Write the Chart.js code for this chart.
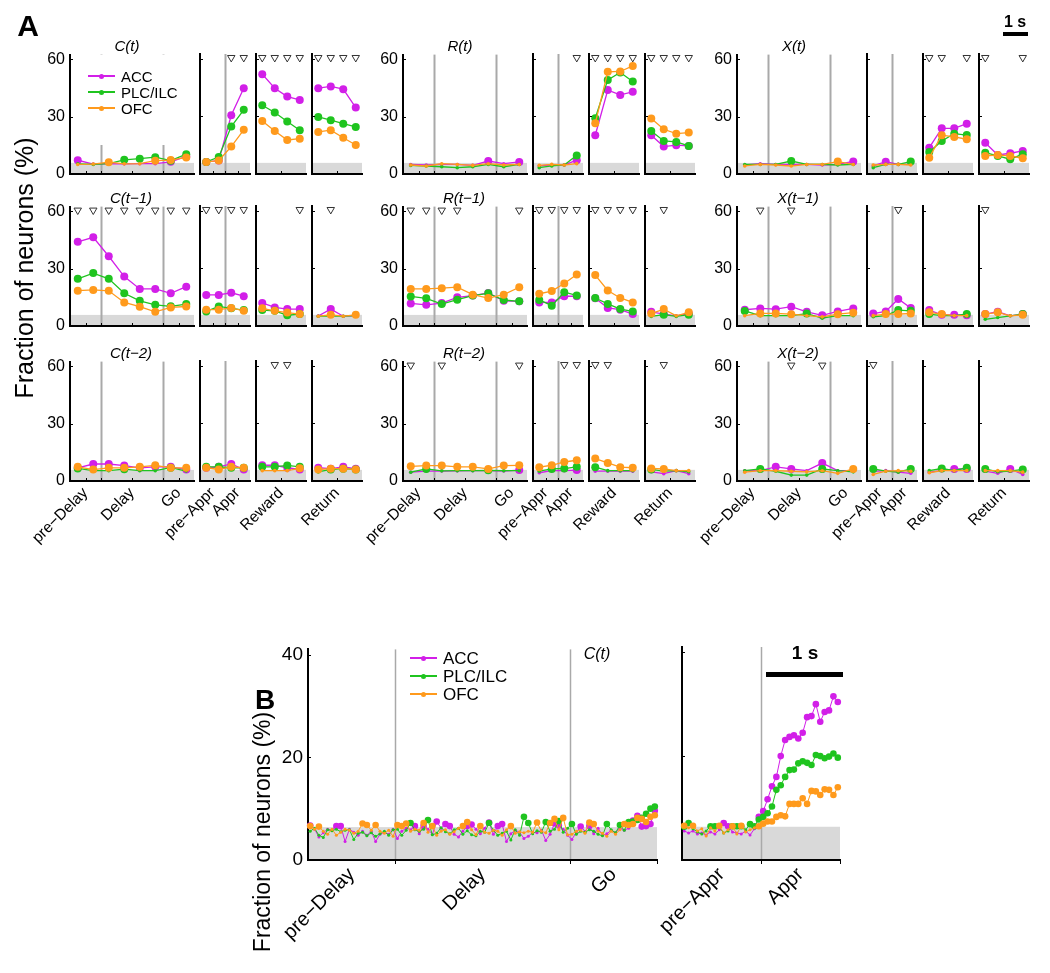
<!DOCTYPE html>
<html>
<head>
<meta charset="utf-8">
<script src="https://cdn.jsdelivr.net/npm/chart.js@4.4.1/dist/chart.umd.min.js"></script>
<style>
  body { margin: 0; background: #fff; }
  #fig { position: relative; width: 1050px; height: 973px; overflow: hidden;
         font-family: "Liberation Sans", Arial, sans-serif; color: #000; }
  #fig canvas { position: absolute; }
  .lbl { position: absolute; white-space: nowrap; line-height: 1; }
</style>
</head>
<body>
<div id="fig"></div>
<script>
/* global Chart */
"use strict";

// ---- data ---------------------------------------------------------------
const REGIONS = ["ACC", "PLC/ILC", "OFC"];

// panel A: each series = 8 (pre-Delay/Delay/Go) + 4 (pre-Appr/Appr) + 4 (Reward) + 4 (Return) bins
const SEG_SIZES = [8, 4, 4, 4];
const SEG_LABELS = [["pre\u2212Delay", "Delay", "Go"], ["pre\u2212Appr", "Appr"], ["Reward"], ["Return"]];
const SEG_LABEL_POS = [[1, 4, 7], [1, 3], [2], [2]];
const SEG_EVENTS = [[2, 6], [2], [], []];
const A_YTICKS = [0, 30, 60];

const ACC_C0 = [7.2, 5.2, 5.4, 5.3, 5.4, 5.4, 6.4, 9.2, 6.3, 7.0, 30.6, 44.7, 52.0, 44.7, 40.3, 38.6, 44.7, 45.6, 44.2, 34.6];
const PLC_C0 = [5.3, 5.0, 5.4, 7.4, 8.0, 8.8, 7.0, 10.4, 6.3, 8.8, 24.7, 33.4, 35.8, 32.0, 27.3, 22.8, 29.7, 28.0, 26.2, 24.5];
const OFC_C0 = [5.0, 5.2, 6.2, 5.3, 5.4, 7.0, 7.3, 8.7, 6.3, 7.0, 14.3, 23.0, 27.6, 22.4, 17.7, 18.4, 21.9, 22.8, 18.9, 15.1];
const SIG_C0 = [10, 11, 12, 13, 14, 15, 16, 17, 18, 19];

const ACC_C1 = [44.1, 46.4, 36.5, 25.9, 19.4, 19.4, 17.1, 20.6, 16.2, 16.2, 17.3, 15.5, 12.0, 9.7, 8.8, 8.8, 5.2, 8.8, 5.1, 5.4];
const PLC_C1 = [24.7, 27.7, 24.7, 17.1, 13.2, 11.1, 10.3, 11.5, 7.6, 10.2, 9.2, 8.3, 8.3, 7.9, 5.6, 6.2, 5.1, 5.3, 5.1, 5.4];
const OFC_C1 = [18.5, 18.9, 18.4, 12.3, 10.1, 7.4, 9.7, 10.2, 8.5, 8.5, 9.4, 7.9, 9.2, 7.9, 7.0, 6.2, 5.1, 5.8, 5.1, 5.8];
const SIG_C1 = [0, 1, 2, 3, 4, 5, 6, 7, 8, 9, 10, 11, 15, 17];

const ACC_C2 = [6.9, 8.9, 8.9, 8.1, 6.9, 7.4, 7.4, 6.0, 6.9, 7.4, 8.9, 6.0, 8.2, 8.2, 6.9, 6.0, 6.9, 6.4, 7.4, 6.4];
const PLC_C2 = [6.6, 5.4, 5.4, 6.2, 5.4, 5.4, 7.0, 5.2, 7.4, 7.4, 6.9, 6.9, 7.4, 7.4, 8.1, 7.4, 4.7, 6.0, 6.4, 6.0];
const OFC_C2 = [7.4, 6.0, 6.9, 6.9, 7.4, 8.2, 6.9, 6.9, 6.9, 6.0, 7.4, 6.9, 5.4, 5.4, 5.4, 6.6, 6.0, 6.4, 6.4, 6.0];
const SIG_C2 = [13, 14];

const ACC_R0 = [5.0, 4.7, 5.0, 5.0, 4.5, 6.8, 5.4, 6.3, 4.2, 4.7, 4.7, 7.2, 20.2, 43.7, 41.2, 42.8, 20.2, 14.3, 15.0, 14.6];
const PLC_R0 = [4.5, 4.2, 3.8, 3.3, 3.8, 5.0, 3.8, 5.0, 3.3, 4.2, 4.7, 9.7, 29.0, 49.0, 52.9, 48.2, 22.4, 17.2, 16.7, 14.6];
const OFC_R0 = [4.7, 4.2, 5.4, 5.0, 4.5, 5.4, 4.7, 5.0, 4.5, 5.0, 4.7, 5.4, 26.4, 53.2, 53.4, 56.3, 28.9, 23.3, 21.0, 21.6];
const SIG_R0 = [11, 12, 13, 14, 15, 16, 17, 18, 19];

const ACC_R1 = [11.8, 11.1, 12.0, 15.0, 15.9, 17.3, 13.2, 12.9, 12.3, 12.3, 15.5, 15.5, 14.5, 9.4, 8.5, 6.2, 7.4, 6.2, 5.3, 6.5];
const PLC_R1 = [15.5, 14.5, 11.5, 13.8, 15.9, 17.1, 13.6, 12.9, 13.6, 10.6, 17.6, 15.9, 14.6, 11.5, 8.8, 7.6, 5.0, 5.9, 5.0, 5.9];
const OFC_R1 = [19.4, 19.4, 19.8, 20.3, 16.4, 14.6, 16.4, 20.3, 16.8, 18.2, 22.1, 26.8, 26.5, 18.5, 14.6, 12.3, 6.5, 8.8, 5.3, 7.1];
const SIG_R1 = [0, 1, 2, 3, 7, 8, 9, 10, 11, 12, 13, 14, 15, 17];

const ACC_R2 = [4.6, 5.2, 5.2, 5.3, 5.4, 5.4, 5.2, 5.7, 4.3, 5.4, 5.4, 5.7, 5.1, 5.1, 5.1, 5.1, 4.8, 3.8, 5.4, 3.8];
const PLC_R2 = [4.6, 6.3, 5.3, 5.4, 5.4, 5.6, 5.4, 5.4, 5.1, 6.3, 6.5, 7.4, 7.2, 5.4, 5.4, 5.4, 6.0, 5.1, 5.4, 4.8];
const OFC_R2 = [7.7, 8.1, 8.1, 7.4, 7.4, 6.3, 8.1, 8.2, 7.2, 8.2, 9.9, 10.8, 11.7, 9.4, 7.2, 6.9, 6.5, 6.3, 5.4, 5.4];
const SIG_R2 = [0, 2, 7, 10, 11, 12, 13, 17];

const ACC_X0 = [4.7, 5.4, 5.0, 5.0, 5.0, 4.7, 5.0, 6.6, 4.2, 6.4, 5.0, 5.0, 13.7, 23.8, 23.8, 26.2, 16.3, 9.9, 10.8, 12.0];
const PLC_X0 = [5.0, 5.0, 5.0, 6.8, 5.0, 5.0, 4.7, 5.0, 3.3, 5.0, 5.0, 6.5, 11.5, 17.2, 21.0, 20.3, 11.1, 9.4, 7.7, 10.3];
const OFC_X0 = [4.2, 5.0, 4.7, 4.2, 5.0, 5.0, 6.5, 5.0, 4.7, 5.0, 5.0, 4.7, 8.5, 20.2, 19.3, 18.1, 9.4, 9.9, 9.4, 8.2];
const SIG_X0 = [12, 13, 15, 16, 19];

const ACC_X1 = [8.5, 9.2, 8.8, 10.1, 7.4, 5.6, 7.6, 9.2, 6.5, 7.6, 14.1, 9.4, 8.3, 5.8, 5.8, 5.6, 6.2, 7.4, 5.3, 6.2];
const PLC_X1 = [7.9, 5.4, 5.4, 5.4, 6.5, 4.1, 5.4, 5.4, 4.8, 5.4, 8.3, 7.9, 6.2, 5.4, 5.4, 6.2, 3.5, 4.4, 5.3, 6.2];
const OFC_X1 = [5.4, 6.6, 6.6, 6.2, 5.4, 4.8, 6.2, 7.0, 5.4, 6.2, 6.2, 6.5, 7.1, 6.2, 5.4, 5.4, 6.2, 7.1, 5.3, 5.8];
const SIG_X1 = [1, 3, 10, 16];

const ACC_X2 = [5.4, 5.4, 7.4, 6.3, 5.4, 9.4, 5.4, 5.4, 5.0, 5.4, 4.6, 4.0, 4.6, 5.4, 6.3, 6.3, 5.1, 4.0, 6.3, 3.4];
const PLC_X2 = [5.4, 6.3, 5.1, 3.1, 3.1, 6.3, 5.4, 4.8, 6.3, 5.1, 4.6, 6.3, 5.4, 6.5, 5.4, 6.9, 6.3, 4.8, 5.1, 6.0];
const OFC_X2 = [4.6, 5.4, 5.4, 5.1, 4.8, 5.4, 4.0, 6.3, 3.4, 5.1, 5.4, 5.1, 4.3, 5.4, 5.4, 5.4, 5.4, 5.4, 5.4, 4.6];
const SIG_X2 = [3, 5, 8];

// panel B: C(t) at fine resolution, 80 bins + 36 bins
const B_LABELS = [["pre\u2212Delay", "Delay", "Go"], ["pre\u2212Appr", "Appr"]];
const B_LABEL_POS = [[10, 40, 70], [9, 27]];
const B_EVENTS = [[20, 60], [18]];
const B_YTICKS = [0, 20, 40];

const ACC_B1 = [
  6.7, 6.0, 4.5, 5.3, 6.0, 5.8, 6.6, 6.6, 3.6, 6.0, 5.4, 4.8, 5.6, 4.8, 5.6, 3.6, 5.0, 5.4, 5.0, 6.0,
  4.2, 5.6, 6.2, 5.9, 6.6, 5.1, 6.6, 6.0, 5.0, 7.5, 6.2, 7.0, 6.6, 5.0, 4.5, 5.6, 6.6, 6.9, 6.0, 5.1,
  6.2, 7.3, 5.0, 6.6, 7.0, 3.6, 5.1, 5.8, 5.4, 4.2, 4.6, 5.4, 5.3, 5.8, 3.8, 5.0, 7.1, 6.7, 6.0, 4.8,
  4.0, 5.4, 6.5, 5.6, 6.6, 5.1, 6.2, 4.8, 5.1, 5.8, 5.3, 6.2, 5.8, 6.2, 7.7, 8.6, 6.5, 6.6, 7.0, 9.6];
const PLC_B1 = [
  5.6, 6.2, 4.8, 4.4, 5.9, 5.7, 6.0, 5.5, 5.8, 5.9, 4.0, 5.2, 5.4, 4.7, 5.3, 4.6, 5.1, 5.6, 4.8, 5.9,
  6.0, 4.8, 5.8, 7.2, 5.9, 5.6, 6.0, 7.8, 4.9, 5.2, 6.3, 5.5, 5.1, 5.9, 6.2, 5.0, 5.7, 4.9, 4.7, 5.6,
  5.4, 7.2, 5.8, 4.8, 5.2, 5.6, 3.9, 5.9, 4.8, 8.4, 7.2, 5.1, 5.7, 5.4, 7.4, 5.6, 6.0, 7.6, 5.4, 6.2,
  7.0, 5.0, 5.6, 5.4, 5.9, 5.6, 5.0, 4.7, 7.0, 5.9, 5.3, 6.8, 5.8, 7.4, 7.5, 7.8, 8.2, 9.0, 10.0, 10.4];
const OFC_B1 = [
  6.6, 6.0, 6.5, 5.6, 5.0, 6.0, 4.8, 5.4, 6.0, 5.8, 5.2, 5.6, 7.1, 6.8, 5.8, 6.8, 5.6, 5.2, 5.8, 4.6,
  6.8, 6.6, 7.1, 5.6, 6.0, 5.8, 7.2, 5.4, 6.6, 4.8, 5.6, 5.9, 5.0, 5.5, 6.2, 6.6, 7.4, 5.9, 4.9, 6.6,
  5.4, 5.2, 5.8, 5.6, 4.8, 5.9, 6.6, 5.2, 5.5, 5.3, 5.6, 5.4, 7.3, 5.6, 5.3, 7.2, 8.0, 5.9, 8.2, 4.9,
  5.0, 5.6, 5.8, 5.2, 7.3, 7.0, 5.6, 5.2, 4.6, 5.6, 5.0, 5.9, 7.0, 6.8, 7.0, 8.2, 8.0, 7.4, 8.4, 8.7];
const ACC_B2 = [
  5.6, 5.2, 5.6, 5.0, 5.2, 4.8, 5.4, 5.0, 5.8, 7.1, 6.5, 5.4, 5.2, 5.0, 5.6, 4.8, 6.0, 8.3,
  9.4, 11.7, 14.2, 16.0, 20.0, 23.1, 23.7, 24.0, 23.4, 24.5, 27.5, 27.7, 30.0, 26.6, 28.5, 28.8, 31.5, 30.4];
const PLC_B2 = [
  6.4, 7.1, 6.0, 5.4, 5.0, 5.6, 6.5, 6.5, 6.3, 5.2, 5.6, 6.5, 6.5, 6.5, 5.8, 6.9, 6.5, 7.8,
  8.3, 9.0, 10.3, 13.5, 14.4, 16.0, 17.3, 17.4, 18.6, 19.0, 18.7, 18.3, 20.2, 20.0, 19.6, 19.9, 20.5, 19.7];
const OFC_B2 = [
  6.6, 6.2, 6.6, 5.6, 6.0, 4.6, 6.2, 5.6, 6.6, 5.2, 5.8, 6.5, 5.0, 6.6, 5.4, 5.8, 6.2, 6.5,
  7.0, 7.4, 7.4, 8.3, 8.6, 8.4, 10.8, 10.8, 10.8, 11.9, 10.8, 13.3, 13.2, 12.5, 13.6, 13.5, 12.5, 14.0];

// ---- style / layout ----------------------------------------------------
const COLORS = ["#d21fe8", "#1fc41f", "#ff9a1c"];
Chart.defaults.font.family = '"Liberation Sans", Arial, sans-serif';
Chart.defaults.color = "#000";

const fig = document.getElementById("fig");

const decor = {
  id: "decor",
  beforeDraw(chart, args, o) {
    const { ctx, chartArea: a, scales: { x, y } } = chart;
    ctx.save();
    const yb = y.getPixelForValue(o.band);
    ctx.fillStyle = "#d9d9d9";
    ctx.fillRect(a.left, yb, a.right - a.left, a.bottom - yb);
    ctx.strokeStyle = "#a9a9a9";
    ctx.lineWidth = o.eventWidth;
    for (const v of o.events) {
      const px = Math.round(x.getPixelForValue(v)) + 0.5;
      ctx.beginPath();
      ctx.moveTo(px, a.top);
      ctx.lineTo(px, a.bottom);
      ctx.stroke();
    }
    ctx.restore();
  },
  afterDraw(chart, args, o) {
    const { ctx, chartArea: a, scales: { x, y } } = chart;
    ctx.save();
    ctx.strokeStyle = "#000";
    ctx.lineWidth = 1;
    for (const v of o.xMarks) {
      const px = Math.round(x.getPixelForValue(v)) + 0.5;
      ctx.beginPath();
      ctx.moveTo(px, a.bottom);
      ctx.lineTo(px, a.bottom + o.xMarkLen);
      ctx.stroke();
    }
    for (const v of o.yMarks) {
      const py = Math.round(y.getPixelForValue(v)) + 0.5;
      ctx.beginPath();
      ctx.moveTo(a.left, py);
      ctx.lineTo(a.left + 3, py);
      ctx.stroke();
    }
    ctx.restore();
  },
};

function panel(cfg) {
  const padL = 80, padR = 14, padT = 14;
  const W = cfg.w + padL + padR, H = cfg.h + padT + cfg.padB;
  const cv = document.createElement("canvas");
  cv.width = W; cv.height = H;
  cv.style.width = W + "px"; cv.style.height = H + "px";
  cv.style.left = (cfg.x - padL) + "px";
  cv.style.top = (cfg.y - padT) + "px";
  fig.appendChild(cv);

  const datasets = cfg.series.map((vals, k) => ({
    data: vals.map((v, i) => ({ x: i + 0.5, y: v })),
    borderColor: COLORS[k],
    backgroundColor: COLORS[k],
    borderWidth: cfg.lw,
    pointBackgroundColor: COLORS[k],
    pointBorderWidth: 0,
    pointRadius: vals.map((v) => (v >= cfg.thr ? cfg.rBig : cfg.rSmall)),
    pointHoverRadius: 0,
    tension: 0,
    order: 3 - k,
    clip: false,
  }));
  if (cfg.sig && cfg.sig.length) {
    datasets.push({
      data: cfg.sig.map((i) => ({ x: i + 0.5, y: cfg.triY })),
      showLine: false,
      pointStyle: "triangle",
      pointRotation: 180,
      pointRadius: 4.3,
      pointBorderWidth: 1,
      pointBorderColor: "#333",
      pointBackgroundColor: "#fff",
      order: 0,
      clip: false,
    });
  }

  new Chart(cv, {
    type: "line",
    data: { datasets },
    options: {
      responsive: false,
      animation: false,
      events: [],
      devicePixelRatio: 1,
      layout: { padding: { left: 0, right: padR, top: padT, bottom: 0 } },
      plugins: {
        legend: { display: false },
        tooltip: { enabled: false },
        decor: {
          band: cfg.band, events: cfg.events, eventWidth: cfg.eventWidth,
          xMarks: cfg.xMarks, xMarkLen: cfg.xMarkLen, yMarks: cfg.yTicks,
        },
      },
      scales: {
        x: {
          type: "linear", min: 0, max: cfg.xMax,
          afterFit: (s) => { s.height = cfg.padB; },
          afterBuildTicks: (s) => { s.ticks = cfg.labelPos.map((v) => ({ value: v })); },
          ticks: {
            display: cfg.showX, autoSkip: false, minRotation: 45, maxRotation: 45,
            padding: 3, font: { size: cfg.xFont }, color: "#000",
            callback: (v, i) => cfg.labels[i] || "",
          },
          grid: { drawOnChartArea: false, drawTicks: false },
          border: { color: "#000", width: 2 },
        },
        y: {
          min: 0, max: cfg.yMax,
          afterFit: (s) => { s.width = padL; },
          afterBuildTicks: (s) => { s.ticks = cfg.yTicks.map((v) => ({ value: v })); },
          ticks: { display: cfg.showY, padding: 5, font: { size: cfg.yFont }, color: "#000" },
          grid: { drawOnChartArea: false, drawTicks: false },
          border: { color: "#000", width: 2 },
        },
      },
    },
    plugins: [decor],
  });
}

function text(str, x, y, css) {
  const d = document.createElement("div");
  d.className = "lbl";
  d.textContent = str;
  d.style.cssText += `left:${x}px;top:${y}px;transform:translate(-50%,-50%);` + (css || "");
  fig.appendChild(d);
  return d;
}

function box(x, y, w, h, css) {
  const d = document.createElement("div");
  d.style.cssText = `position:absolute;left:${x}px;top:${y}px;width:${w}px;height:${h}px;` + css;
  fig.appendChild(d);
  return d;
}

function legend(x, y, step, lineW, fontSize, bg) {
  if (bg) box(bg[0], bg[1], bg[2], bg[3], "background:#fff;");
  REGIONS.forEach((name, k) => {
    const cy = y + k * step;
    box(x, cy - 0.75, lineW, 1.5, `background:${COLORS[k]};`);
    box(x + lineW / 2 - 2.5, cy - 2.5, 5, 5, `background:${COLORS[k]};border-radius:50%;`);
    const t = text(name, 0, cy, `font-size:${fontSize}px;transform:translate(0,-50%);`);
    t.style.left = (x + lineW + 6) + "px";
  });
}

// ---- panel A ---------------------------------------------------------------
const A_GROUPS = [
  { title: "C(t)", series: [ACC_C0, PLC_C0, OFC_C0], sig: SIG_C0 },
  { title: "R(t)", series: [ACC_R0, PLC_R0, OFC_R0], sig: SIG_R0 },
  { title: "X(t)", series: [ACC_X0, PLC_X0, OFC_X0], sig: SIG_X0 },
  { title: "C(t\u22121)", series: [ACC_C1, PLC_C1, OFC_C1], sig: SIG_C1 },
  { title: "R(t\u22121)", series: [ACC_R1, PLC_R1, OFC_R1], sig: SIG_R1 },
  { title: "X(t\u22121)", series: [ACC_X1, PLC_X1, OFC_X1], sig: SIG_X1 },
  { title: "C(t\u22122)", series: [ACC_C2, PLC_C2, OFC_C2], sig: SIG_C2 },
  { title: "R(t\u22122)", series: [ACC_R2, PLC_R2, OFC_R2], sig: SIG_R2 },
  { title: "X(t\u22122)", series: [ACC_X2, PLC_X2, OFC_X2], sig: SIG_X2 },
];
const A_COL_X = [70, 403, 737];
const A_SUB_DX = [0, 130, 186, 242];
const A_SUB_W = [124, 50, 50, 50];
const A_ROW_BOTTOM = [174, 326, 481];
const A_H = 120;

A_GROUPS.forEach((g, gi) => {
  const row = Math.floor(gi / 3), col = gi % 3;
  let start = 0;
  SEG_SIZES.forEach((n, s) => {
    const end = start + n;
    panel({
      x: A_COL_X[col] + A_SUB_DX[s], y: A_ROW_BOTTOM[row] - A_H, w: A_SUB_W[s], h: A_H,
      padB: row === 2 ? 80 : 18,
      xMax: n, yMax: 62.5, yTicks: A_YTICKS, showY: s === 0, yFont: 16,
      showX: row === 2, xFont: 15.5, labels: SEG_LABELS[s], labelPos: SEG_LABEL_POS[s],
      events: SEG_EVENTS[s], eventWidth: 2, xMarks: SEG_LABEL_POS[s].concat(SEG_EVENTS[s]), xMarkLen: -3,
      series: g.series.map((a) => a.slice(start, end)),
      sig: g.sig.filter((i) => i >= start && i < end).map((i) => i - start),
      triY: 60.6, band: 5.8, thr: 5.5, rBig: 4, rSmall: 1.8, lw: 1.3,
    });
    start = end;
  });
  text(g.title, A_COL_X[col] + (row === 0 ? 57 : 61), A_ROW_BOTTOM[row] - 129,
    "font-size:15px;font-style:italic;");
});

legend(88, 76, 16, 27, 15, [73, 55, 118, 90]);

text("A", 28, 26, "font-size:30px;font-weight:bold;");
text("Fraction of neurons (%)", 24, 268, "font-size:25px;transform:translate(-50%,-50%) rotate(-90deg);");
text("1 s", 1015, 22, "font-size:16px;font-weight:bold;");
box(1003, 32, 25, 4, "background:#000;");

// ---- panel B ---------------------------------------------------------------
const B_SUB_X = [308, 682];
const B_SUB_W = [349, 158];
const B_BOTTOM = 860, B_H = 213;
[[ACC_B1, PLC_B1, OFC_B1], [ACC_B2, PLC_B2, OFC_B2]].forEach((series, s) => {
  const n = series[0].length;
  panel({
    x: B_SUB_X[s], y: B_BOTTOM - B_H, w: B_SUB_W[s], h: B_H, padB: 110,
    xMax: n, yMax: 41, yTicks: B_YTICKS, showY: s === 0, yFont: 19,
    showX: true, xFont: 20, labels: B_LABELS[s], labelPos: B_LABEL_POS[s],
    events: B_EVENTS[s], eventWidth: 1.5, xMarks: B_EVENTS[s].concat([n]), xMarkLen: 4,
    series, sig: [], triY: 40, band: 6.4, thr: 6.4, rBig: 3.3, rSmall: 1.5, lw: 1,
  });
});

legend(410, 658, 18, 27, 17, null);
text("C(t)", 597, 654, "font-size:16px;font-style:italic;");
text("B", 265, 700, "font-size:28px;font-weight:bold;");
text("Fraction of neurons (%)", 262, 832, "font-size:23px;transform:translate(-50%,-50%) rotate(-90deg);");
text("1 s", 805, 652, "font-size:19px;font-weight:bold;");
box(766, 672, 77, 5, "background:#000;");
</script>
</body>
</html>
